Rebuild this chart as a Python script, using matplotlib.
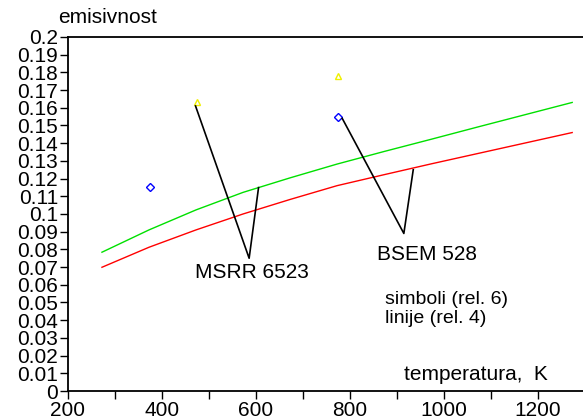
import matplotlib
matplotlib.use("Agg")
import matplotlib.pyplot as plt
from matplotlib.ticker import MultipleLocator, FuncFormatter

plt.rcParams['font.family'] = ['Liberation Sans', 'DejaVu Sans']

# line data (rel. 4)
line_T = [273, 373, 473, 573, 673, 773, 873, 973, 1073, 1173, 1273]
green_eps = [0.0784, 0.0910, 0.1023, 0.1122, 0.1204, 0.1282, 0.1353, 0.1422, 0.1492, 0.1561, 0.1630]
red_eps = [0.0699, 0.0812, 0.0910, 0.1000, 0.1082, 0.1160, 0.1222, 0.1283, 0.1342, 0.1401, 0.1460]

# symbol data (rel. 6)
tri_T = [475, 775]
tri_eps = [0.163, 0.178]
dia_T = [375, 775]
dia_eps = [0.115, 0.155]

fig = plt.figure(figsize=(5.83, 4.19), dpi=100)
ax = fig.add_axes([0.116, 0.0668, 0.884, 0.845])

ax.plot(line_T, green_eps, color='#00e000', lw=1.0)
ax.plot(line_T, red_eps, color='#ff0000', lw=1.0)
ax.plot(tri_T, tri_eps, linestyle='none', marker='^', markersize=5,
        markerfacecolor='none', markeredgecolor='#f0f000', markeredgewidth=1.0)
ax.plot(dia_T, dia_eps, linestyle='none', marker='D', markersize=3.6,
        markerfacecolor='none', markeredgecolor='#0000ff', markeredgewidth=1.0)

# annotation pointers
ax.plot([472, 586, 606], [0.161, 0.075, 0.1149], color='black', lw=1.2)
ax.plot([784, 915, 935], [0.154, 0.089, 0.125], color='black', lw=1.2)

ax.text(592, 0.067, 'MSRR 6523', fontsize=15, ha='center', va='center')
ax.text(965, 0.077, 'BSEM 528', fontsize=15, ha='center', va='center')
ax.text(875, 0.0515, 'simboli (rel. 6)', fontsize=14, ha='left', va='center')
ax.text(875, 0.0410, 'linije (rel. 4)', fontsize=14, ha='left', va='center')
ax.text(916, 0.0095, 'temperatura,  K', fontsize=15, ha='left', va='center')
fig.text(0.1, 0.958, 'emisivnost', fontsize=15, ha='left', va='center')

ax.set_xlim(200, 1296)
ax.set_ylim(0, 0.2)
ax.xaxis.set_major_locator(MultipleLocator(200))
ax.xaxis.set_minor_locator(MultipleLocator(100))
ax.yaxis.set_major_locator(MultipleLocator(0.01))

def yfmt(v, pos):
    return ('%.2f' % v).rstrip('0').rstrip('.')
ax.yaxis.set_major_formatter(FuncFormatter(yfmt))

ax.spines['right'].set_visible(False)
for s in ['left', 'bottom', 'top']:
    ax.spines[s].set_linewidth(1.3)
ax.tick_params(axis='both', which='both', direction='out', width=1.0)
ax.tick_params(axis='y', length=6, pad=1, labelsize=15)
ax.tick_params(axis='x', which='major', length=6, pad=1, labelsize=15)
ax.tick_params(axis='x', which='minor', length=6)
ax.tick_params(top=False, right=False)

fig.savefig('out.png', dpi=100)
